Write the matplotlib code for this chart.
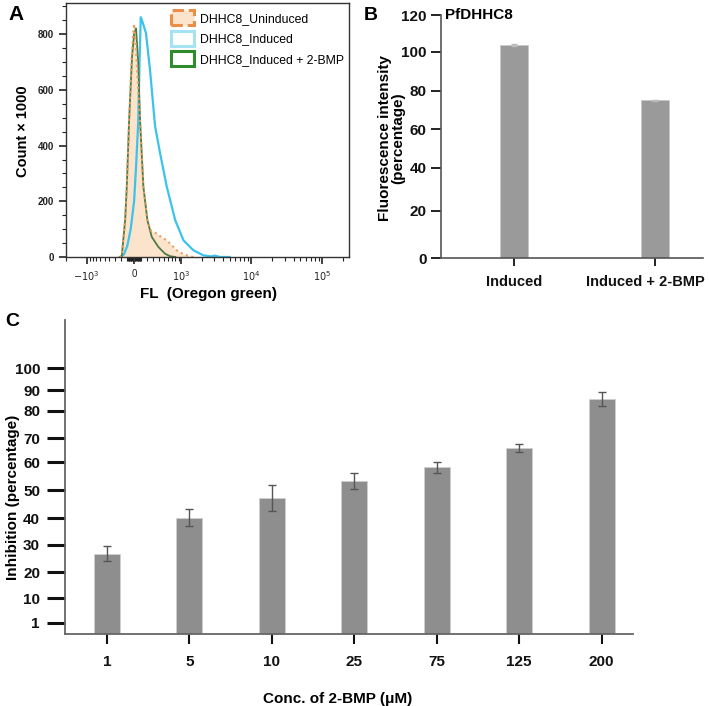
import matplotlib
matplotlib.use("Agg")
import matplotlib.pyplot as plt
import matplotlib.transforms as mtransforms
from matplotlib.patches import Patch
import numpy as np

plt.rcParams['font.family'] = ['Liberation Sans', 'DejaVu Sans']

# ---- panel A: flow histograms (FL value, count x 1000)
uninduced_x = [-220, -185, -133, -108, -73, -40, -15, 0, 25, 60, 88, 138, 201, 255, 300, 363, 450, 573, 700, 842, 1000, 1206, 1500]
uninduced_y = [0, 3, 132, 252, 491, 700, 800, 837, 760, 600, 491, 252, 132, 96, 90, 84, 72, 60, 42, 24, 14, 6, 0]
induced_x = [-200, -150, -100, -50, 0, 30, 60, 80, 98, 130, 178, 243, 331, 427, 573, 797, 1073, 1514, 2110, 2700, 3100, 3650, 5000]
induced_y = [0, 10, 40, 100, 200, 330, 480, 700, 861, 840, 804, 672, 470, 372, 252, 132, 60, 24, 6, 2, 5, 0, 0]
bmp_x = [-220, -185, -133, -108, -73, -30, 0, 29, 60, 88, 138, 201, 273, 393, 531, 650, 800]
bmp_y = [0, 3, 132, 252, 491, 720, 800, 821, 700, 491, 252, 132, 72, 36, 12, 3, 0]

# ---- panel B
b_labels = ['Induced', 'Induced + 2-BMP']
b_values = [103.8, 75.0]
b_err = [0.4, 0.3]

# ---- panel C
c_labels = ['1', '5', '10', '25', '75', '125', '200']
c_values = [26.7, 40.0, 47.1, 53.2, 58.2, 65.8, 85.7]
c_err = [2.8, 3.1, 4.6, 2.7, 2.0, 1.7, 3.3]

fig = plt.figure(figsize=(7.09, 7.06), dpi=100)


def interp_scale(vals, pos):
    vals = np.asarray(vals, float)
    pos = np.asarray(pos, float)
    fwd = lambda v: np.interp(v, vals, pos)
    inv = lambda p: np.interp(p, pos, vals)
    return fwd, inv


# ================= A =================
axA = fig.add_axes([66 / 709, 1 - 257 / 706, 283 / 709, 254 / 706])
c = 450.0
axA.set_xscale('function', functions=(lambda v: np.arcsinh(np.asarray(v) / c),
                                      lambda t: c * np.sinh(np.asarray(t))))
axA.fill_between(uninduced_x, uninduced_y, color='#fce3cb', lw=0)
axA.plot(induced_x, induced_y, color='#3bc3ec', lw=1.6)
axA.plot(bmp_x, bmp_y, color='#4f7a43', lw=1.3)
axA.plot(uninduced_x, uninduced_y, color='#e9a060', lw=1.5, ls=':')
axA.set_xlim(-2030, 242000)
axA.set_ylim(0, 912)
axA.set_xticks([-1000, 0, 1000, 10000, 100000])
axA.set_xticklabels([r'$-10^3$', '0', r'$10^3$', r'$10^4$', r'$10^5$'])
minor = [v * s for v in list(range(10, 100, 10)) + list(range(100, 1000, 100)) for s in (1, -1)]
minor += [-2000] + list(range(2000, 10000, 1000)) + list(range(20000, 100000, 10000)) + [200000]
axA.set_xticks(minor, minor=True)
axA.set_yticks([0, 200, 400, 600, 800])
axA.set_yticks(np.arange(0, 901, 50), minor=True)
axA.tick_params(axis='both', which='major', labelsize=7, length=5, width=1.2, colors='#222222')
axA.tick_params(axis='both', which='minor', length=3, width=0.8, colors='#222222')
for lab in axA.get_yticklabels():
    lab.set_fontweight('bold')
for s in axA.spines.values():
    s.set_color('#333333')
    s.set_linewidth(1)
axA.set_ylabel('Count × 1000', fontsize=10.5, fontweight='bold')
axA.yaxis.set_label_coords(-0.127, 0.496)
axA.set_xlabel('FL  (Oregon green)', fontsize=11, fontweight='bold')
axA.xaxis.set_label_coords(0.505, -0.118)
handles = [Patch(facecolor='#fce3cb', edgecolor='#e8904a', ls='--', lw=2.2),
           Patch(facecolor='white', edgecolor='#a6e3f2', lw=2.2),
           Patch(facecolor='white', edgecolor='#2e8b2e', lw=2.2)]
axA.legend(handles, ['DHHC8_Uninduced', 'DHHC8_Induced', 'DHHC8_Induced + 2-BMP'],
           loc='upper left', bbox_to_anchor=(0.345, 1.0), frameon=False, fontsize=8.8,
           handlelength=1.9, handleheight=1.5, labelspacing=0.45, handletextpad=0.45,
           borderaxespad=0.2)

# ================= B =================
axB = fig.add_axes([441 / 709, 1 - 258 / 706, 262 / 709, (258 - 15.3) / 706])
fwd, inv = interp_scale([-20, 0, 20, 40, 60, 80, 100, 120, 140],
                        [-47, 0, 47, 90, 128.4, 167, 206, 242.4, 279])
axB.set_yscale('function', functions=(fwd, inv))
xb = np.arange(len(b_values))
axB.bar(xb, b_values, width=0.2, color='#9a9a9a', edgecolor='#c8c8c8', lw=0.6)
axB.errorbar(xb, b_values, yerr=b_err, fmt='none', ecolor='#bbbbbb', capsize=2, lw=0.8)
axB.set_xlim(-0.518, 1.34)
axB.set_ylim(0, 120)
axB.set_yticks([0, 20, 40, 60, 80, 100, 120])
axB.set_xticks(xb)
axB.set_xticklabels(b_labels)
axB.tick_params(axis='y', labelsize=11, colors='#111111', length=7, width=1.3)
axB.tick_params(axis='x', labelsize=10.5, colors='#111111', length=6, width=1.3, pad=6)
for lab in axB.get_xticklabels() + axB.get_yticklabels():
    lab.set_fontweight('bold')
# last category label sits a bit left of its tick in the original
shift = mtransforms.ScaledTranslation(-10 / 100, 0, fig.dpi_scale_trans)
lab = axB.get_xticklabels()[1]
lab.set_transform(lab.get_transform() + shift)
for side in ('top', 'right'):
    axB.spines[side].set_visible(False)
for side in ('left', 'bottom'):
    axB.spines[side].set_color('#555555')
    axB.spines[side].set_linewidth(1.2)
axB.set_ylabel('Fluorescence intensity\n(percentage)', fontsize=11, fontweight='bold', linespacing=1.0)
axB.yaxis.set_label_coords(-0.135, 0.494)
axB.text(0.015, 1.0, 'PfDHHC8', transform=axB.transAxes, fontsize=11, fontweight='bold', va='center')

# ================= C =================
axC = fig.add_axes([65 / 709, 1 - 634 / 706, 568 / 709, 314 / 706])
fwd, inv = interp_scale([-10, 0, 1, 10, 20, 30, 40, 50, 60, 70, 80, 90, 100, 140],
                        [-11, 0, 11, 36, 62, 89, 116, 144, 172, 196, 223, 244, 266, 354])
axC.set_yscale('function', functions=(fwd, inv))
xc = np.arange(len(c_values))
axC.bar(xc, c_values, width=0.315, color='#8e8e8e', edgecolor='#cfcfcf', lw=0.6)
axC.errorbar(xc, c_values, yerr=c_err, fmt='none', ecolor='#555555', capsize=3, lw=1.0, capthick=1.0)
axC.set_xlim(-0.51, 6.38)
axC.set_ylim(0, inv(314))
axC.set_yticks([1, 10, 20, 30, 40, 50, 60, 70, 80, 90, 100])
axC.set_yticklabels(['1', '10', '20', '30', '40', '50', '60', '70', '80', '90', '100'])
axC.set_xticks(xc)
axC.set_xticklabels(c_labels)
axC.tick_params(axis='both', labelsize=11, colors='#111111')
axC.tick_params(axis='y', length=13, width=2.2, pad=5)
axC.tick_params(axis='x', length=7, width=1.5, pad=8)
for lab in axC.get_xticklabels() + axC.get_yticklabels():
    lab.set_fontweight('bold')
for side in ('top', 'right'):
    axC.spines[side].set_visible(False)
for side in ('left', 'bottom'):
    axC.spines[side].set_color('#666666')
    axC.spines[side].set_linewidth(1.3)
axC.set_ylabel('Inhibition (percentage)', fontsize=11, fontweight='bold')
axC.yaxis.set_label_coords(-0.079, 0.436)
axC.set_xlabel('Conc. of 2-BMP (μM)', fontsize=11, fontweight='bold')
axC.xaxis.set_label_coords(0.48, -0.185)

# panel letters
fig.text(8 / 709, 1 - 15 / 706, 'A', fontsize=15, fontweight='bold', va='center')
fig.text(364 / 709, 1 - 15 / 706, 'B', fontsize=14, fontweight='bold', va='center')
fig.text(5 / 709, 1 - 322 / 706, 'C', fontsize=14, fontweight='bold', va='center')

fig.savefig('out.png', dpi=100)
